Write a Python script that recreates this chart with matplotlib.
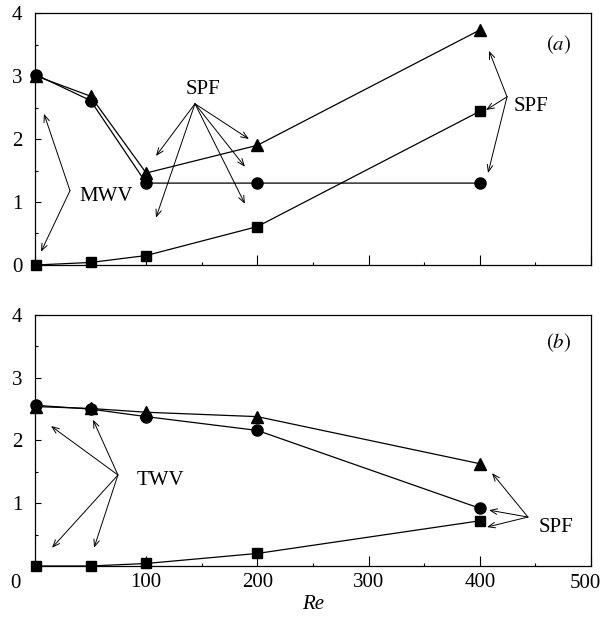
import numpy as np
import matplotlib
matplotlib.use('Agg')
import matplotlib.pyplot as plt
from matplotlib.ticker import MultipleLocator

plt.rcParams['font.family'] = ['Liberation Serif', 'DejaVu Serif']
plt.rcParams['mathtext.fontset'] = 'stix'

# Reynolds numbers
re_vals = [1, 50, 100, 200, 400]

# panel (a)
a_tri = [3.00, 2.68, 1.46, 1.90, 3.73]
a_circ = [3.02, 2.61, 1.30, 1.30, 1.30]
a_sq = [0.00, 0.04, 0.15, 0.61, 2.44]

# panel (b)
b_tri = [2.54, 2.51, 2.45, 2.38, 1.63]
b_circ = [2.56, 2.50, 2.38, 2.16, 0.92]
b_sq = [0.00, 0.00, 0.04, 0.20, 0.72]

fig = plt.figure(figsize=(6.02, 6.20), dpi=100)
ax_a = fig.add_axes([0.0581, 0.5726, 0.9236, 0.4064])
ax_b = fig.add_axes([0.0581, 0.0871, 0.9236, 0.4049])


def style_axes(ax):
    ax.set_xlim(0, 500)
    ax.set_ylim(0, 4)
    ax.xaxis.set_major_locator(MultipleLocator(100))
    ax.xaxis.set_minor_locator(MultipleLocator(50))
    ax.yaxis.set_major_locator(MultipleLocator(1))
    ax.yaxis.set_minor_locator(MultipleLocator(0.5))
    ax.tick_params(axis='x', which='major', direction='in', length=7.5, width=0.8,
                   labelsize=15, pad=5)
    ax.tick_params(axis='x', which='minor', direction='in', length=2.5, width=0.8)
    ax.tick_params(axis='y', which='major', direction='in', length=4.5, width=0.8,
                   labelsize=15, pad=9)
    ax.tick_params(axis='y', which='minor', direction='in', length=2.5, width=0.8)
    for s in ax.spines.values():
        s.set_linewidth(0.9)


def draw_series(ax, tri, circ, sq):
    ax.plot(re_vals, tri, color='black', lw=0.9, marker='^', ms=8, clip_on=False, zorder=3)
    ax.plot(re_vals, circ, color='black', lw=0.9, marker='o', ms=8, clip_on=False, zorder=3)
    ax.plot(re_vals, sq, color='black', lw=0.9, marker='s', ms=6.5, clip_on=False, zorder=3)


def arrows(ax, label, text_xy, origin, tips):
    ax.text(text_xy[0], text_xy[1], label, fontsize=15, ha='center', va='center')
    for tip in tips:
        ax.annotate('', xy=tip, xytext=origin,
                    arrowprops=dict(arrowstyle='->,head_length=0.5,head_width=0.2',
                                    lw=0.7, color='black', shrinkA=0, shrinkB=0))


# ---- panel (a)
style_axes(ax_a)
draw_series(ax_a, a_tri, a_circ, a_sq)
ax_a.set_xticklabels([])
ax_a.set_yticks([0, 1, 2, 3, 4])
ax_a.set_yticklabels(['0', '1', '2', '3', '4'])
arrows(ax_a, 'MWV', (63.8, 1.08), (31.5, 1.18), [(8.1, 2.40), (5.4, 0.21)])
arrows(ax_a, 'SPF', (151, 2.79), (143.9, 2.56),
       [(108.8, 1.73), (108.8, 0.75), (192.4, 2.0), (188.8, 1.56), (188.8, 0.97)])
arrows(ax_a, 'SPF', (446, 2.52), (424.5, 2.67),
       [(408.3, 3.40), (405.6, 2.46), (407.4, 1.46)])
ax_a.text(0.942, 0.873, '$(a)$', transform=ax_a.transAxes, fontsize=15,
          ha='center', va='center')

# ---- panel (b)
style_axes(ax_b)
draw_series(ax_b, b_tri, b_circ, b_sq)
ax_b.set_xticks([100, 200, 300, 400, 500])
ax_b.set_xticklabels(['100', '200', '300', '400', ''])
ax_b.set_yticks([1, 2, 3, 4])
ax_b.set_yticklabels(['1', '2', '3', '4'])
ax_b.text(-0.036, -0.068, '0', transform=ax_b.transAxes, fontsize=15,
          ha='center', va='center')
ax_b.text(1.018, -0.068, '500', transform=ax_b.transAxes, fontsize=15,
          ha='right', va='center')
arrows(ax_b, 'TWV', (112.4, 1.37), (74.6, 1.45),
       [(14.4, 2.23), (52.2, 2.33), (15.3, 0.29), (53.1, 0.29)])
arrows(ax_b, 'SPF', (468.5, 0.62), (443.3, 0.78),
       [(411, 1.48), (408.3, 0.89), (406.5, 0.62)])
ax_b.text(0.942, 0.888, '$(b)$', transform=ax_b.transAxes, fontsize=15,
          ha='center', va='center')
ax_b.set_xlabel('Re', fontsize=15, style='italic', labelpad=2)

fig.savefig('out.png', dpi=100)
